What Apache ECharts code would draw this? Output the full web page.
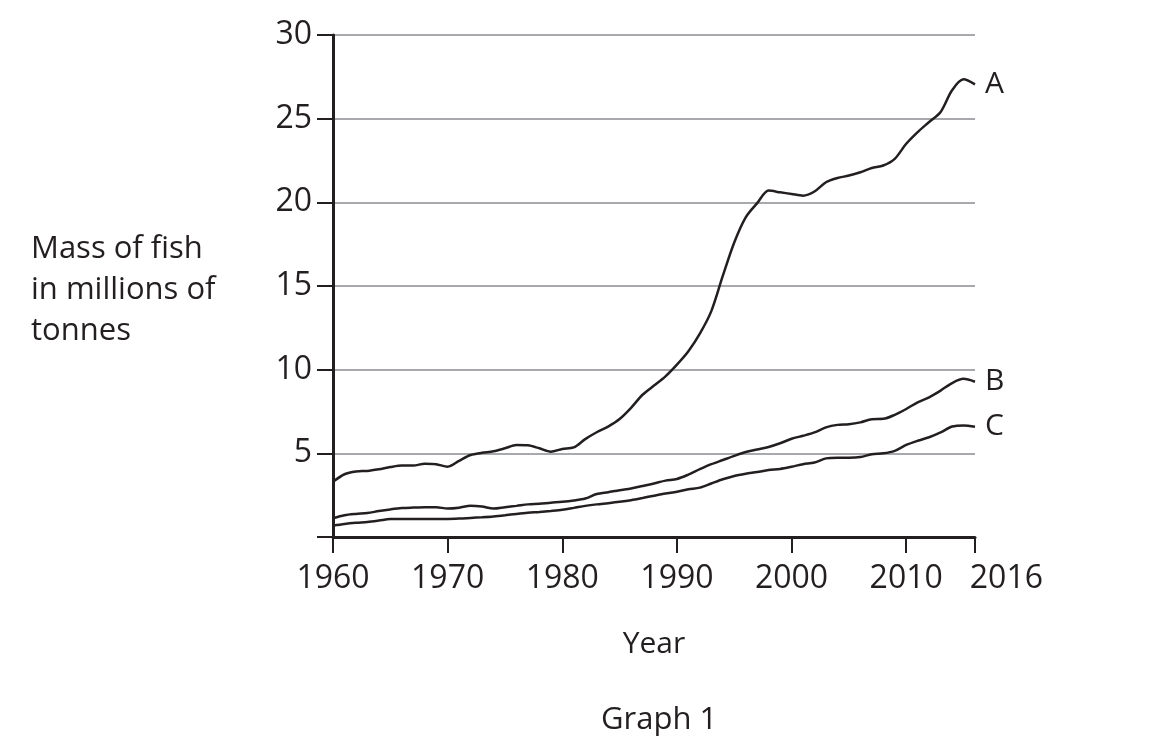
<!DOCTYPE html>
<html>
<head>
<meta charset="utf-8">
<script src="https://cdn.jsdelivr.net/npm/echarts@6/dist/echarts.min.js"></script>
<style>
  html, body { margin: 0; padding: 0; background: #ffffff; }
  #chart { width: 1167px; height: 748px; }
</style>
</head>
<body>
<div id="chart"></div>
<script>
const years = [];
for (let y = 1960; y <= 2016; y++) years.push(y);

const seriesA = [3.3, 3.75, 3.92, 3.95, 4.05, 4.18, 4.27, 4.27, 4.38, 4.35,
  4.2, 4.55, 4.9, 5.03, 5.12, 5.3, 5.5, 5.48, 5.3, 5.1,
  5.26, 5.35, 5.85, 6.26, 6.6, 7.05, 7.72, 8.5, 9.05, 9.6,
  10.3, 11.1, 12.15, 13.5, 15.6, 17.6, 19.1, 19.95, 20.7, 20.6,
  20.5, 20.4, 20.65, 21.2, 21.45, 21.6, 21.8, 22.05, 22.2, 22.6,
  23.5, 24.2, 24.8, 25.4, 26.7, 27.35, 27.05];

const seriesB = [1.12, 1.3, 1.38, 1.43, 1.55, 1.65, 1.73, 1.76, 1.78, 1.78,
  1.7, 1.75, 1.87, 1.82, 1.7, 1.78, 1.86, 1.95, 1.99, 2.05,
  2.1, 2.18, 2.3, 2.57, 2.68, 2.8, 2.9, 3.05, 3.2, 3.37,
  3.47, 3.73, 4.05, 4.35, 4.6, 4.85, 5.08, 5.23, 5.38, 5.6,
  5.87, 6.05, 6.25, 6.55, 6.7, 6.74, 6.85, 7.04, 7.06, 7.3,
  7.65, 8.05, 8.35, 8.75, 9.2, 9.45, 9.28];

const seriesC = [0.68, 0.78, 0.85, 0.9, 0.98, 1.07, 1.08, 1.08, 1.08, 1.08,
  1.08, 1.1, 1.14, 1.18, 1.23, 1.3, 1.38, 1.45, 1.5, 1.56,
  1.63, 1.74, 1.86, 1.95, 2.02, 2.1, 2.2, 2.33, 2.47, 2.6,
  2.7, 2.85, 2.95, 3.2, 3.45, 3.65, 3.78, 3.88, 4.0, 4.07,
  4.2, 4.35, 4.45, 4.7, 4.74, 4.74, 4.78, 4.95, 5.0, 5.15,
  5.5, 5.75, 5.96, 6.25, 6.6, 6.67, 6.59];

const seriesNames = ['A', 'B', 'C'];
const xTicks = [1960, 1970, 1980, 1990, 2000, 2010, 2016];
const xLabels = [1960, 1970, 1980, 1990, 2000, 2010];
const xEndLabel = [2016];
const yTicks = [0, 5, 10, 15, 20, 25, 30];

const ink = '#231f20';
const font = '"Open Sans", "Noto Sans", sans-serif';
const xMin = 1960, xMax = 2016.001;

function pairs(vals) { return years.map((y, i) => [y, vals[i]]); }

function makeSeries(name, vals) {
  return {
    name: name,
    type: 'line',
    data: pairs(vals),
    showSymbol: false,
    smooth: 0.3,
    lineStyle: { color: ink, width: 2.5 },
    endLabel: {
      show: true,
      formatter: '{a}',
      color: ink,
      fontFamily: font,
      fontSize: 30,
      distance: 10
    },
    emphasis: { disabled: true },
    z: 5
  };
}

const chart = echarts.init(document.getElementById('chart'), null, { renderer: 'canvas' });
chart.setOption({
  animation: false,
  backgroundColor: '#ffffff',
  textStyle: { fontFamily: font, color: ink },
  grid: { left: 333, right: 192, top: 35, bottom: 211, containLabel: false },
  xAxis: [
    {
      type: 'value',
      position: 'bottom',
      min: xMin,
      max: xMax,
      name: 'Year',
      nameLocation: 'middle',
      nameGap: 92,
      nameTextStyle: { fontFamily: font, fontSize: 30, color: ink },
      axisLine: { show: true, onZero: false, lineStyle: { color: ink, width: 3 } },
      axisTick: { show: true, length: 16, customValues: xTicks, lineStyle: { color: ink, width: 2 } },
      axisLabel: {
        customValues: xLabels,
        margin: 26,
        fontFamily: font,
        fontSize: 32,
        color: ink,
        formatter: function (v) { return String(Math.round(v)); }
      },
      splitLine: { show: false }
    },
    {
      type: 'value',
      position: 'bottom',
      offset: 0,
      min: xMin,
      max: xMax,
      axisLine: { show: false, onZero: false },
      axisTick: { show: false },
      axisLabel: {
        customValues: xEndLabel,
        margin: 26,
        color: ink,
        formatter: function (v) { return '{r|' + Math.round(v) + '}'; },
        rich: {
          r: { width: 136, align: 'right', fontFamily: font, fontSize: 32, color: ink }
        }
      },
      splitLine: { show: false }
    }
  ],
  yAxis: {
    type: 'value',
    min: 0,
    max: 30,
    interval: 5,
    axisLine: { show: true, onZero: false, lineStyle: { color: ink, width: 3 } },
    axisTick: { show: true, length: 16, customValues: yTicks, lineStyle: { color: ink, width: 2 } },
    axisLabel: {
      customValues: yTicks,
      margin: 21,
      fontFamily: font,
      fontSize: 32,
      color: ink,
      formatter: function (v) { return v === 0 ? '' : String(v); }
    },
    splitLine: { show: true, lineStyle: { color: '#a7a9ac', width: 2 } }
  },
  series: [
    makeSeries(seriesNames[0], seriesA),
    makeSeries(seriesNames[1], seriesB),
    makeSeries(seriesNames[2], seriesC)
  ],
  graphic: [
    {
      type: 'text',
      left: 31,
      top: 229,
      style: {
        text: 'Mass of fish\nin millions of\ntonnes',
        fill: ink,
        font: '31px "Open Sans", "Noto Sans", sans-serif',
        lineHeight: 41
      }
    },
    {
      type: 'text',
      left: 601,
      top: 705,
      style: {
        text: 'Graph 1',
        fill: ink,
        font: '31px "Open Sans", "Noto Sans", sans-serif'
      }
    }
  ]
});
</script>
</body>
</html>
